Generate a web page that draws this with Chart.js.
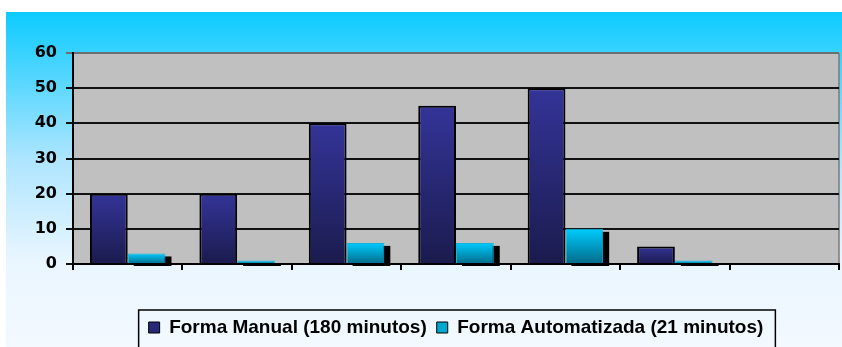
<!DOCTYPE html>
<html>
<head>
<meta charset="utf-8">
<script src="https://cdn.jsdelivr.net/npm/chart.js@4.4.1/dist/chart.umd.min.js"></script>
<style>
  body { margin: 0; background: #fff; }
  #wrap { width: 842px; height: 347px; }
</style>
</head>
<body>
<div id="wrap"><canvas id="myChart" width="842" height="347"></canvas></div>
<script>
// data
const categories = ["", "", "", "", "", "", ""];
const manualValues = [20, 20, 40, 45, 50, 5, null];
const autoValues = [3, 1, 6, 6, 10, 1, null];
const yTicks = [0, 10, 20, 30, 40, 50, 60];
const seriesNames = ["Forma Manual (180 minutos)", "Forma Automatizada (21 minutos)"];

const legendColors = ["#28287a", "#00a8d0"];

// vertical gradient running over each bar from its top to the baseline
function barGradient(top, bottom) {
  return (c) => {
    const y = c.chart.scales.y;
    if (c.type !== "data" || !y || c.raw == null) return top;
    const y0 = y.getPixelForValue(c.raw);
    const y1 = y.getPixelForValue(0);
    if (!isFinite(y0) || !isFinite(y1) || y0 === y1) return top;
    const g = c.chart.ctx.createLinearGradient(0, y0, 0, y1);
    g.addColorStop(0, top);
    g.addColorStop(1, bottom);
    return g;
  };
}

const backdrop = {
  id: "backdrop",
  afterLayout(chart) {
    // legend is centred under the plot, not the whole canvas
    const lg = chart.legend;
    lg.left = chart.chartArea.left;
    lg.right = chart.chartArea.right;
    lg.width = lg.right - lg.left;
  },
  beforeDraw(chart) {
    const { ctx, chartArea: a, width, height } = chart;
    ctx.save();
    ctx.fillStyle = "#fff";
    ctx.fillRect(0, 0, width, height);
    const g = ctx.createLinearGradient(0, 12, 0, height);
    g.addColorStop(0, "#0ccbff");
    g.addColorStop(0.44, "#aee5ff");
    g.addColorStop(0.75, "#eaf6ff");
    g.addColorStop(1, "#f3f9ff");
    ctx.fillStyle = g;
    ctx.fillRect(6, 12, width - 6, height - 12);
    ctx.fillStyle = "#c0c0c0";
    ctx.fillRect(a.left, a.top, a.right - a.left, a.bottom - a.top);
    // right edge of the plot
    ctx.strokeStyle = "#7a7a7a";
    ctx.lineWidth = 1.5;
    ctx.beginPath();
    ctx.moveTo(a.right, a.top);
    ctx.lineTo(a.right, a.bottom);
    ctx.stroke();
    ctx.restore();
  },
  afterDraw(chart) {
    // frame around the legend
    const lg = chart.legend;
    const boxes = lg.legendHitBoxes;
    if (!boxes.length) return;
    const left = Math.min(...boxes.map((b) => b.left)) - 10;
    const right = Math.max(...boxes.map((b) => b.left + b.width)) + 12;
    const ctx = chart.ctx;
    ctx.save();
    ctx.strokeStyle = "#000";
    ctx.lineWidth = 1.5;
    ctx.strokeRect(left, lg.top + 2, right - left, chart.height);
    ctx.restore();
  }
};

// black drop shadow behind the cyan bars
const autoShadow = {
  id: "autoShadow",
  beforeDatasetDraw(chart, args) {
    if (args.index !== 1) return;
    const ctx = chart.ctx;
    ctx.save();
    ctx.fillStyle = "#000";
    args.meta.data.forEach((bar, i) => {
      if (autoValues[i] == null) return;
      const { x, y, base, width } = bar.getProps(["x", "y", "base", "width"], true);
      ctx.fillRect(x - width / 2 + 6, y + 3, width, base - y);
    });
    ctx.restore();
  }
};

const ctx = document.getElementById("myChart");

new Chart(ctx, {
  type: "bar",
  data: {
    labels: categories,
    datasets: [
      {
        label: seriesNames[0],
        data: manualValues,
        backgroundColor: barGradient("#343499", "#1b1b4e"),
        borderColor: "#000",
        borderWidth: 2,
        barPercentage: 1,
        categoryPercentage: 0.69,
      },
      {
        label: seriesNames[1],
        data: autoValues,
        backgroundColor: barGradient("#00ccff", "#006a88"),
        borderColor: "#10b4dc",
        borderWidth: 1,
        barPercentage: 1,
        categoryPercentage: 0.69,
      },
    ],
  },
  options: {
    responsive: false,
    animation: false,
    layout: { padding: { left: 6, right: 3, top: 53, bottom: 0 } },
    scales: {
      x: {
        grid: { offset: true, drawOnChartArea: false, color: "#000", lineWidth: 2, tickLength: 6 },
        border: { color: "#000", width: 2 },
        ticks: { display: false },
        afterFit(s) { s.height = 44; },
      },
      y: {
        min: yTicks[0],
        max: yTicks[yTicks.length - 1],
        ticks: {
          stepSize: yTicks[1] - yTicks[0],
          color: "#000",
          padding: 9,
          font: { family: "DejaVu Sans", weight: "bold", size: 16 },
        },
        grid: {
          color: (c) => (c.tick && c.tick.value === yTicks[yTicks.length - 1] ? "#6e6e6e" : "#111"),
          lineWidth: 2,
          tickLength: 7,
        },
        border: { color: "#000", width: 2 },
        afterFit(s) { s.width = 67; },
      },
    },
    plugins: {
      tooltip: { enabled: false },
      legend: {
        position: "bottom",
        labels: {
          color: "#000",
          boxWidth: 11,
          boxHeight: 11,
          padding: 10,
          font: { family: "Liberation Sans", weight: "bold", size: 19 },
          generateLabels(chart) {
            return Chart.defaults.plugins.legend.labels.generateLabels(chart).map((l, i) => ({
              ...l,
              fillStyle: legendColors[i],
              strokeStyle: "#000",
              lineWidth: 1,
            }));
          },
        },
      },
    },
  },
  plugins: [backdrop, autoShadow],
});
</script>
</body>
</html>
